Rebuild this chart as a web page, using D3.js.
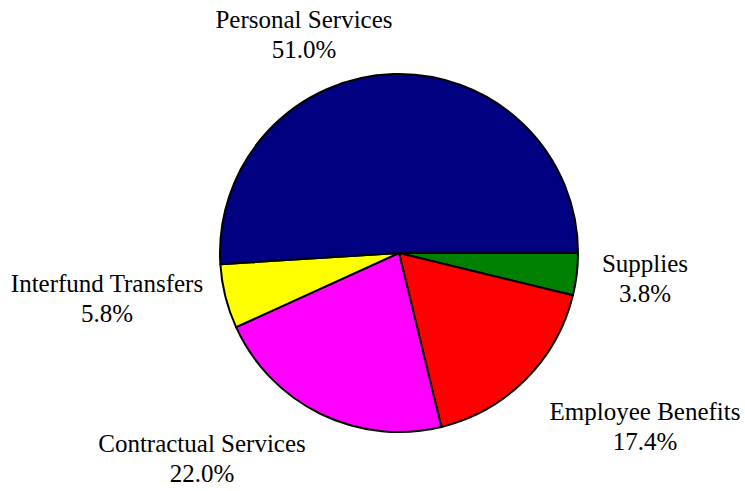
<!DOCTYPE html>
<html><head><meta charset="utf-8">
<script src="https://cdn.jsdelivr.net/npm/d3@7"></script>
<style>body{margin:0;background:#fff}svg{display:block}
text{font-family:"Liberation Serif","Times New Roman",Times,"DejaVu Serif",serif;}</style>
</head><body><svg width="745" height="491"></svg>
<script>
const categories = ["Supplies","Employee Benefits","Contractual Services","Interfund Transfers","Personal Services"];
const values = [3.8, 17.4, 22.0, 5.8, 51.0];
const colors = ["#008000","#FF0000","#FF00FF","#FFFF00","#000080"];
// label anchor positions (layout)
const labelPos = [[645,272],[645,420],[202,452],[107,292],[304,28]];

const svg = d3.select("svg");
const cx = 399, cy = 253, r = 179;
const pie = d3.pie().sort(null).value(d=>d)
  .startAngle(Math.PI/2).endAngle(Math.PI/2 + 2*Math.PI);
const arc = d3.arc().innerRadius(0).outerRadius(r);
const g = svg.append("g").attr("transform",`translate(${cx},${cy})`);
g.selectAll("path").data(pie(values)).enter().append("path")
  .attr("d",arc).attr("fill",(d,i)=>colors[i])
  .attr("stroke","#000").attr("stroke-width",2).attr("stroke-linejoin","round");

const fmt = d3.format(".1f");
const lab = svg.append("g")
  .attr("font-size",25).attr("text-anchor","middle").attr("fill","#000");
categories.forEach((c,i)=>{
  const t = lab.append("text").attr("x",labelPos[i][0]).attr("y",labelPos[i][1]);
  t.append("tspan").attr("x",labelPos[i][0]).text(c);
  t.append("tspan").attr("x",labelPos[i][0]).attr("dy",29.5).text(fmt(values[i])+"%");
});
</script></body></html>
